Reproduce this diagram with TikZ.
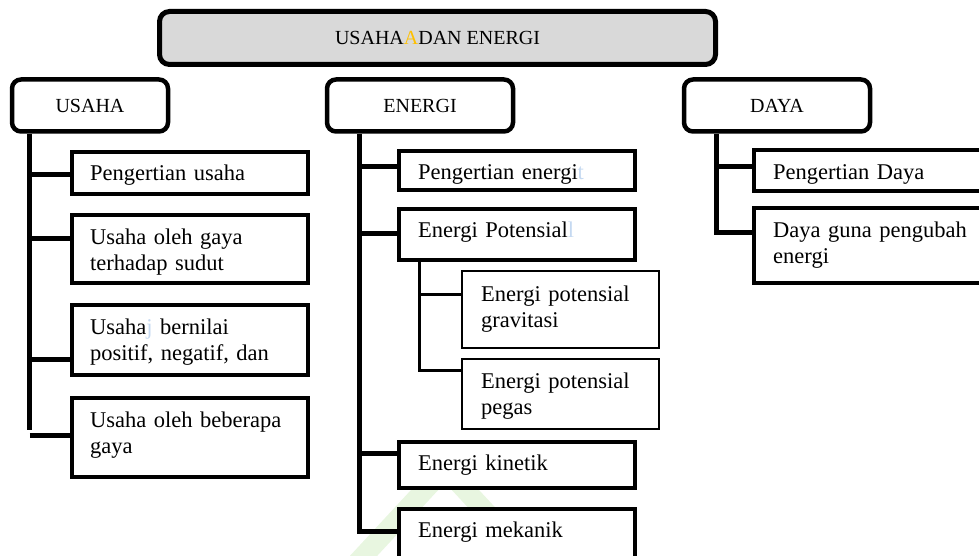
\documentclass[tikz,border=0pt]{standalone}
\usepackage{fontspec}
\setmainfont{Liberation Serif}
\usetikzlibrary{calc}
\definecolor{topfill}{HTML}{D9D9D9}
\definecolor{accent}{HTML}{FFC000}
\definecolor{faint}{HTML}{C5D9F1}
\definecolor{markgreen}{HTML}{E8F6E0}

\begin{document}
\begin{tikzpicture}[x=1pt,y=-1pt,
  topbox/.style={draw, line width=5pt, rounded corners=10pt, fill=topfill,
    minimum width=556pt, minimum height=53pt, inner sep=0pt,
    font=\fontsize{20}{24}\selectfont},
  headbox/.style={draw, line width=4.5pt, rounded corners=9pt, fill=white,
    minimum height=52pt, inner sep=0pt, font=\fontsize{20}{24}\selectfont},
  itembox/.style={draw, line width=4pt, fill=white, anchor=north west, inner sep=0pt},
  subbox/.style={draw, line width=2pt, fill=white, anchor=north west, inner sep=0pt},
  itemtext/.style={anchor=base west, inner sep=0pt, align=left, text width=225pt,
    font=\fontsize{22.5}{26.5}\selectfont},
  link/.style={line width=5pt},
  sublink/.style={line width=3pt}]

\useasboundingbox (0,0) rectangle (979,556);
\clip (0,0) rectangle (979,556);

% faint logo mark in the background
\draw[markgreen, line width=20pt, line join=round] (445,468) -- (572,605) -- (318,605) -- cycle;

% title
\node[topbox] (top) at (437.5,38) {USAHA\textcolor{accent}{A}DAN ENERGI};

% main topics
\node[headbox, minimum width=156pt] (usaha)  at (90,105.5)  {USAHA};
\node[headbox, minimum width=186pt] (energi) at (420,105.5) {ENERGI};
\node[headbox, minimum width=186pt] (daya)   at (777,105.5) {DAYA};

% USAHA items
\node[itembox, minimum width=236pt, minimum height=42pt] (u1) at (70,150) {};
\node[itembox, minimum width=236pt, minimum height=68pt] (u2) at (70,213) {};
\node[itembox, minimum width=236pt, minimum height=70pt] (u3) at (70,303) {};
\node[itembox, minimum width=236pt, minimum height=79pt] (u4) at (70,396) {};
\node[itemtext] (u1t) at ($(u1.north west)+(20,31)$) {Pengertian usaha};
\node[itemtext] (u2t) at ($(u2.north west)+(20,31)$) {Usaha oleh gaya\\terhadap sudut};
\node[itemtext] (u3t) at ($(u3.north west)+(20,31)$) {Usaha\textcolor{faint}{j} bernilai\\positif, negatif, dan};
\node[itemtext] (u4t) at ($(u4.north west)+(20,31)$) {Usaha oleh beberapa\\gaya};

% ENERGI items
\node[itembox, minimum width=236pt, minimum height=39pt] (e1) at (397,149) {};
\node[itembox, minimum width=236pt, minimum height=51pt] (e2) at (397,207) {};
\node[subbox, minimum width=197pt, minimum height=77pt] (s1) at (461,270) {};
\node[subbox, minimum width=197pt, minimum height=70pt] (s2) at (461,358) {};
\node[itembox, minimum width=236pt, minimum height=46pt] (e3) at (397,440) {};
\node[itembox, minimum width=236pt, minimum height=80pt] (e4) at (397,507) {};
\node[itemtext] (e1t) at ($(e1.north west)+(21,31)$) {Pengertian energi\textcolor{faint}{t}};
\node[itemtext] (e2t) at ($(e2.north west)+(21,30)$) {Energi Potensial\textcolor{faint}{l}};
\node[itemtext] (s1t) at ($(s1.north west)+(20,31)$) {Energi potensial\\gravitasi};
\node[itemtext] (s2t) at ($(s2.north west)+(20,30)$) {Energi potensial\\pegas};
\node[itemtext] (e3t) at ($(e3.north west)+(21,30)$) {Energi kinetik};
\node[itemtext] (e4t) at ($(e4.north west)+(21,30)$) {Energi mekanik};

% DAYA items
\node[itembox, minimum width=260pt, minimum height=41pt] (d1) at (752,148) {};
\node[itembox, minimum width=260pt, minimum height=75pt] (d2) at (752,206) {};
\node[itemtext] (d1t) at ($(d1.north west)+(21,31)$) {Pengertian Daya};
\node[itemtext] (d2t) at ($(d2.north west)+(21,31)$) {Daya guna pengubah\\energi};

% branch points on the item boxes
\coordinate (ub1) at ([yshift=-25pt]u1.north west);
\coordinate (ub2) at ([yshift=-25pt]u2.north west);
\coordinate (ub3) at ([yshift=-56pt]u3.north west);
\coordinate (ub4) at ([yshift=-39pt]u4.north west);
\coordinate (eb1) at ([yshift=-18pt]e1.north west);
\coordinate (eb2) at ([yshift=-26pt]e2.north west);
\coordinate (eb3) at ([yshift=-13pt]e3.north west);
\coordinate (eb4) at ([yshift=-24pt]e4.north west);
\coordinate (sb1) at ([yshift=-24pt]s1.north west);
\coordinate (sb2) at ([yshift=-12pt]s2.north west);
\coordinate (db1) at ([yshift=-19pt]d1.north west);
\coordinate (db2) at ([yshift=-26pt]d2.north west);

% trunk starts below the topic boxes
\coordinate (ut) at ([xshift=20pt]usaha.south west);
\coordinate (et) at ([xshift=35pt]energi.south west);
\coordinate (dt) at ([xshift=35pt]daya.south west);
\coordinate (st) at ([xshift=22pt]e2.south west);

% USAHA tree
\draw[link] (ut) -- ([yshift=5pt]ut |- ub4);
\draw[link] (ut |- ub1) -- (ub1);
\draw[link] (ut |- ub2) -- (ub2);
\draw[link] (ut |- ub3) -- (ub3);
\draw[link] (ut |- ub4) -- (ub4);

% ENERGI tree
\draw[link] (et) |- (eb4);
\draw[link] (et |- eb1) -- (eb1);
\draw[link] (et |- eb2) -- (eb2);
\draw[link] (et |- eb3) -- (eb3);
\draw[sublink] (st) |- (sb2);
\draw[sublink] (st |- sb1) -- (sb1);

% DAYA tree
\draw[link] (dt) |- (db2);
\draw[link] (dt |- db1) -- (db1);
\end{tikzpicture}
\end{document}
